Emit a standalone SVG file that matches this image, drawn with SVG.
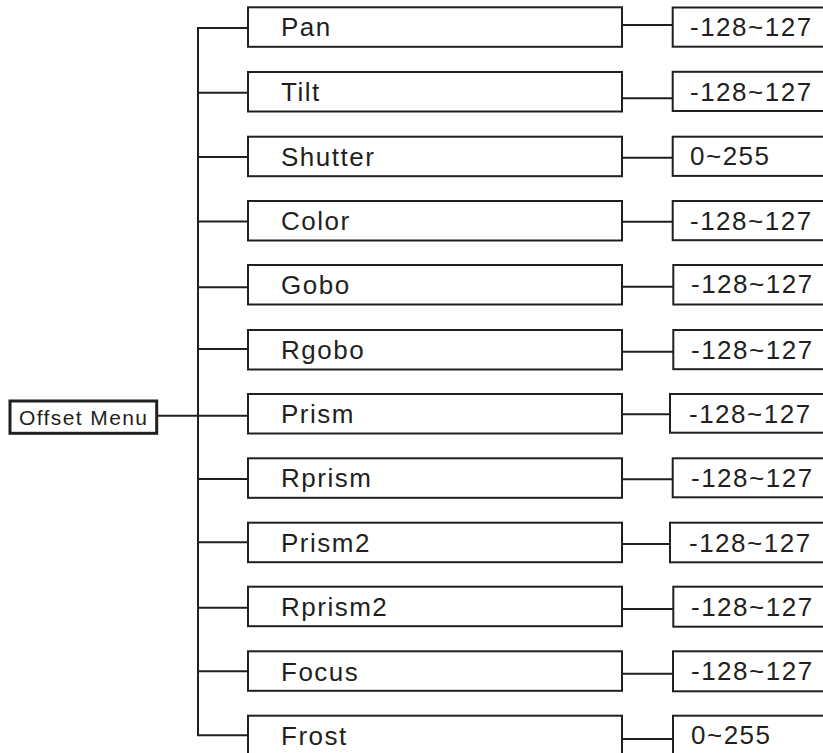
<svg xmlns="http://www.w3.org/2000/svg" width="823" height="753" viewBox="0 0 823 753">
<style>
.box{fill:#fff;stroke:#231f20;stroke-width:2}
.root{fill:#fff;stroke:#231f20;stroke-width:3}
.ln{fill:none;stroke:#231f20;stroke-width:2}
.t{font-family:"Liberation Sans",Arial,sans-serif;font-size:26px;letter-spacing:1.5px;fill:#231f20}
.tr{font-family:"Liberation Sans",Arial,sans-serif;font-size:21px;letter-spacing:1.4px;fill:#231f20}
</style>
<rect width="823" height="753" fill="#fff"/>
<g id="connectors">
<path class="ln" d="M198,28V735.3"/>
<path class="ln" d="M156.7,415.7H248"/>
<path class="ln" d="M197,28H248M197,92.7H248M197,157H248M197,221.5H248M197,287.3H248M197,349H248M197,479H248M197,542.3H248M197,607.7H248M197,671.3H248M197,735.3H248"/>
<path class="ln" d="M622,25H672.7M622,98.3H672.7M622,157.7H672.7M622,221.7H672.7M622,286.7H673.3M622,351.7H673.3M622,414.3H670M622,479.3H672.7M622,544H670M622,609H673.3M622,673.7H673M622,739H673"/>
</g>
<g id="offset-menu">
<rect class="root" x="10" y="401" width="146.7" height="32.3"/>
<text class="tr" x="19" y="425">Offset Menu</text>
</g>
<g id="pan"><rect class="box" x="248" y="7.3" width="374" height="39.5"/><text class="t" x="281" y="36.3">Pan</text></g>
<g id="tilt"><rect class="box" x="248" y="72" width="374" height="39.5"/><text class="t" x="281" y="101">Tilt</text></g>
<g id="shutter"><rect class="box" x="248" y="136.7" width="374" height="39.5"/><text class="t" x="281" y="165.7">Shutter</text></g>
<g id="color"><rect class="box" x="248" y="201" width="374" height="39.5"/><text class="t" x="281" y="230">Color</text></g>
<g id="gobo"><rect class="box" x="248" y="265" width="374" height="39.5"/><text class="t" x="281" y="294.3">Gobo</text></g>
<g id="rgobo"><rect class="box" x="248" y="330" width="374" height="39.5"/><text class="t" x="281" y="359">Rgobo</text></g>
<g id="prism"><rect class="box" x="248" y="394" width="374" height="39.5"/><text class="t" x="281" y="423">Prism</text></g>
<g id="rprism"><rect class="box" x="248" y="458.3" width="374" height="39.5"/><text class="t" x="281" y="487.3">Rprism</text></g>
<g id="prism2"><rect class="box" x="248" y="522.7" width="374" height="39.5"/><text class="t" x="281" y="552.3">Prism2</text></g>
<g id="rprism2"><rect class="box" x="248" y="586.7" width="374" height="39.5"/><text class="t" x="281" y="616">Rprism2</text></g>
<g id="focus"><rect class="box" x="248" y="651.3" width="374" height="39.5"/><text class="t" x="281" y="680.5">Focus</text></g>
<g id="frost"><rect class="box" x="248" y="715.7" width="374" height="39.5"/><text class="t" x="281" y="745">Frost</text></g>
<g id="pan-val"><rect class="box" x="672.7" y="7.5" width="160" height="39.2"/><text class="t" x="690" y="36.3">-128~127</text></g>
<g id="tilt-val"><rect class="box" x="672.7" y="71.8" width="160" height="39.2"/><text class="t" x="690" y="100.8">-128~127</text></g>
<g id="shutter-val"><rect class="box" x="672.7" y="136.7" width="160" height="39.2"/><text class="t" x="690" y="165">0~255</text></g>
<g id="color-val"><rect class="box" x="672.7" y="201" width="160" height="39.2"/><text class="t" x="690" y="229.5">-128~127</text></g>
<g id="gobo-val"><rect class="box" x="673.3" y="265" width="160" height="39.5"/><text class="t" x="691" y="293.3">-128~127</text></g>
<g id="rgobo-val"><rect class="box" x="673.3" y="330" width="160" height="39.2"/><text class="t" x="691" y="358.5">-128~127</text></g>
<g id="prism-val"><rect class="box" x="670" y="394" width="160" height="38.7"/><text class="t" x="689" y="422.5">-128~127</text></g>
<g id="rprism-val"><rect class="box" x="672.7" y="458.3" width="160" height="39"/><text class="t" x="691" y="486.8">-128~127</text></g>
<g id="prism2-val"><rect class="box" x="670" y="522.7" width="160" height="39.6"/><text class="t" x="689" y="551.5">-128~127</text></g>
<g id="rprism2-val"><rect class="box" x="673.3" y="586.7" width="160" height="40"/><text class="t" x="691" y="615.5">-128~127</text></g>
<g id="focus-val"><rect class="box" x="673" y="651.3" width="160" height="40"/><text class="t" x="691" y="680">-128~127</text></g>
<g id="frost-val"><rect class="box" x="673" y="715.7" width="160" height="40"/><text class="t" x="691" y="744">0~255</text></g>
</svg>
